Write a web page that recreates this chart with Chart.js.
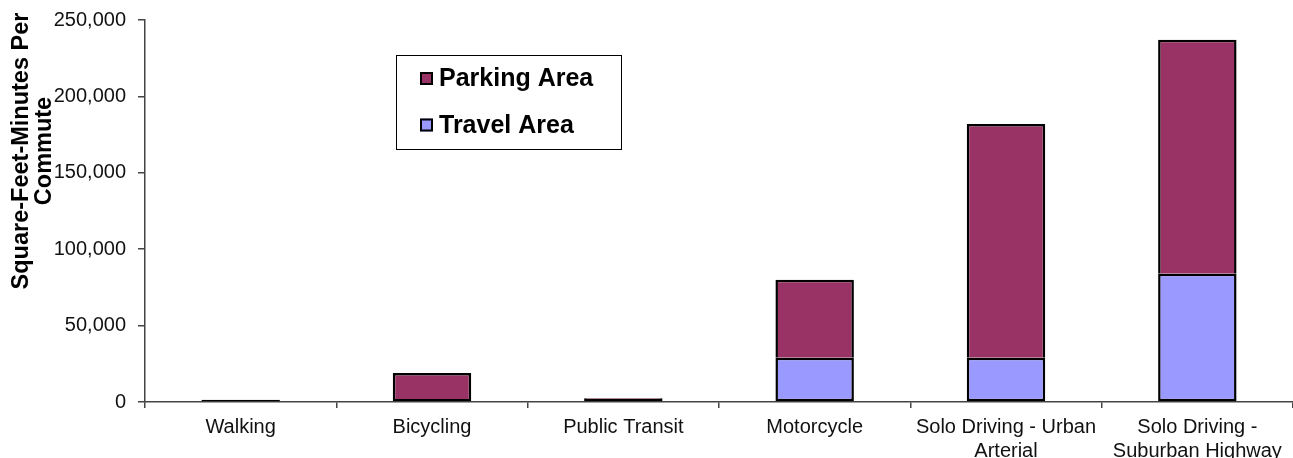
<!DOCTYPE html>
<html>
<head>
<meta charset="utf-8">
<script src="https://cdn.jsdelivr.net/npm/chart.js@4.4.1/dist/chart.umd.min.js"></script>
<style>
    html, body { margin: 0; padding: 0; background: #fff; }
    #wrap { width: 1293px; height: 458px; }
</style>
</head>
<body>
<div id="wrap"><canvas id="graph"></canvas></div>
<script>
// donnees
const categories = ["Walking", "Bicycling", "Public Transit", "Motorcycle",
    ["Solo Driving - Urban", "Arterial"], ["Solo Driving -", "Suburban Highway"]];
const travelArea = [1500, 2000, 2200, 29000, 29000, 84000];
const parkingArea = [0, 17000, 400, 51000, 153000, 153000];
const yTicks = [0, 50000, 100000, 150000, 200000, 250000];
const yTitle = ["Square-Feet-Minutes Per", "Commute"];

const police = "'Liberation Sans', Arial, sans-serif";

// titre de l'axe Y (chevauche les graduations comme sur l'original)
const titreAxe = {
    id: "titreAxe",
    afterDraw(chart) {
        const ctx = chart.ctx;
        ctx.save();
        ctx.font = "bold 23.5px " + police;
        ctx.fillStyle = "#000";
        ctx.textAlign = "center";
        ctx.textBaseline = "middle";
        yTitle.forEach((ligne, i) => {
            ctx.save();
            ctx.translate(22 + i * 23, 151);
            ctx.rotate(-Math.PI / 2);
            ctx.fillText(ligne, 0, 0);
            ctx.restore();
        });
        ctx.restore();
    }
};

// legende encadree dans la zone du graphique
const legendeBoite = {
    id: "legendeBoite",
    afterDraw(chart) {
        const ctx = chart.ctx;
        ctx.save();
        ctx.fillStyle = "#fff";
        ctx.fillRect(396, 55, 225, 94);
        ctx.strokeStyle = "#000";
        ctx.lineWidth = 1;
        ctx.strokeRect(396.5, 55.5, 225, 94);
        const items = chart.data.datasets.slice().reverse();
        items.forEach((ds, i) => {
            const yc = 78.5 + i * 46.5;
            ctx.fillStyle = ds.backgroundColor;
            ctx.fillRect(420, yc - 6.5, 13, 13);
            ctx.lineWidth = 2;
            ctx.strokeStyle = "#000";
            ctx.strokeRect(421, yc - 5.5, 11, 11);
            ctx.fillStyle = "#000";
            ctx.font = "bold 25px " + police;
            ctx.textAlign = "left";
            ctx.textBaseline = "middle";
            ctx.fillText(ds.label, 439, yc + 1);
        });
        ctx.restore();
    }
};

const ctx = document.getElementById("graph").getContext("2d");
new Chart(ctx, {
    type: 'bar',
    data: {
        labels: categories,
        datasets: [{
            label: "Travel Area",
            data: travelArea,
            backgroundColor: "#9999FF",
            borderColor: "#000",
            borderWidth: 2.5,
            borderSkipped: false,
            barPercentage: 0.41,
            categoryPercentage: 1
        }, {
            label: "Parking Area",
            data: parkingArea,
            backgroundColor: "#993366",
            borderColor: "#000",
            borderWidth: 2.5,
            borderSkipped: 'start',
            barPercentage: 0.41,
            categoryPercentage: 1
        }]
    },
    options: {
        responsive: true,
        maintainAspectRatio: false,
        animation: false,
        layout: { padding: { top: 19, right: -4, left: 0, bottom: 0 } },
        plugins: {
            legend: { display: false },
            tooltip: { enabled: false }
        },
        scales: {
            x: {
                stacked: true,
                afterFit: (scale) => { scale.height = 56; },
                border: { color: "#444", width: 1.5 },
                grid: { display: true, drawOnChartArea: false, offset: true, tickLength: 6, color: "#444", lineWidth: 1.5 },
                ticks: {
                    color: "#111",
                    font: { family: police, size: 20, lineHeight: 1.2 },
                    maxRotation: 0,
                    autoSkip: false,
                    padding: 7
                }
            },
            y: {
                stacked: true,
                min: 0,
                max: yTicks[yTicks.length - 1],
                afterFit: (scale) => { scale.width = 145; },
                afterBuildTicks: (scale) => { scale.ticks = yTicks.map(v => ({ value: v })); },
                border: { color: "#444", width: 1.5 },
                grid: { display: true, drawOnChartArea: false, tickLength: 7, color: "#444", lineWidth: 1.5 },
                ticks: {
                    color: "#111",
                    font: { family: police, size: 20, lineHeight: 0.8 },
                    padding: 12,
                    callback: (v) => Number(v).toLocaleString("en-US")
                }
            }
        }
    },
    plugins: [titreAxe, legendeBoite]
});
</script>
</body>
</html>
